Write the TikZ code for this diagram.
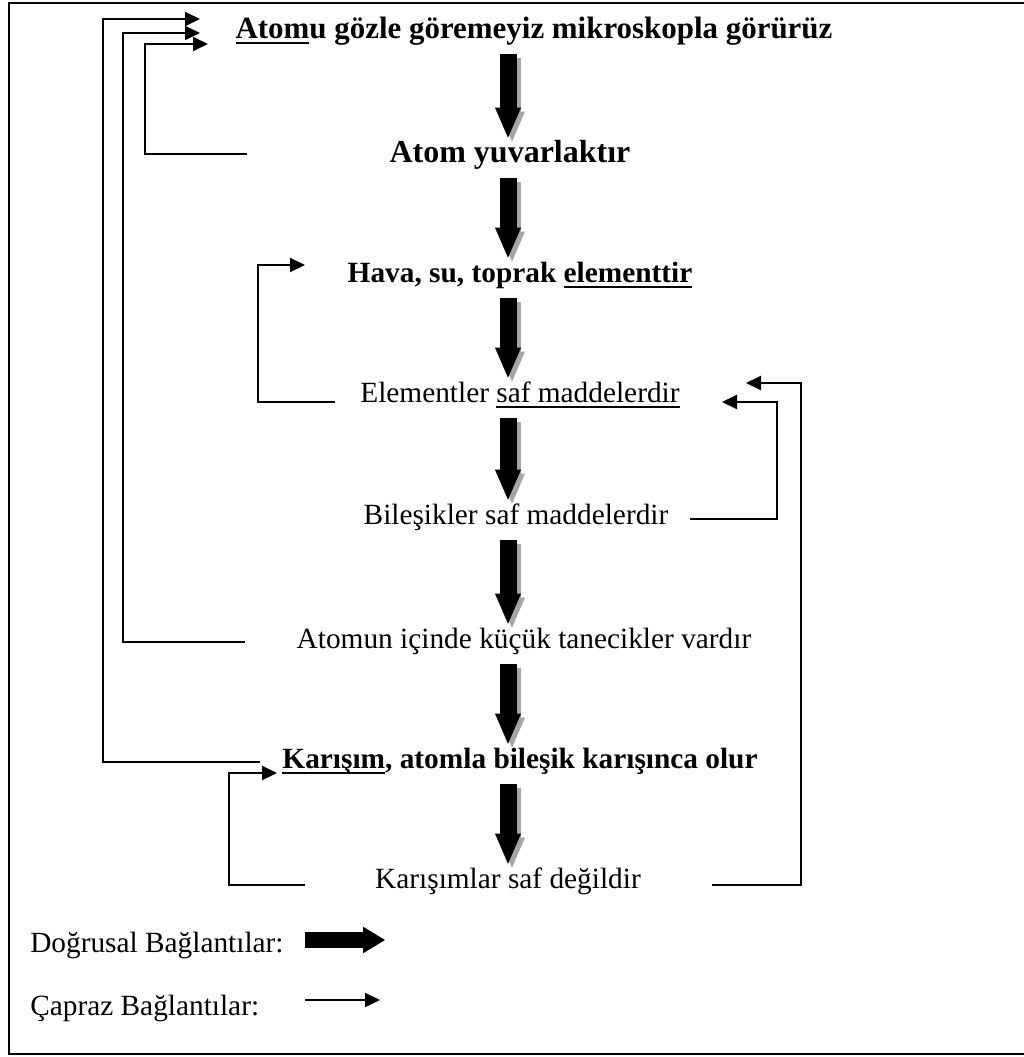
\documentclass[tikz,border=0pt]{standalone}
\usepackage{fontspec}
\setmainfont{Liberation Serif}
\usetikzlibrary{arrows.meta,calc}
% underline with a fixed offset below the baseline
\newcommand\undl[1]{\setbox0\hbox{#1}\rlap{\rule[-4.5pt]{\wd0}{1.5pt}}\box0}
\begin{document}
\begin{tikzpicture}[x=0.75pt,y=-0.75pt,
  lbl/.style={inner sep=0pt, anchor=base, font=\fontsize{22}{26}\selectfont,
    text height=15pt, text depth=4.5pt},
  lblb/.style={lbl, font=\fontsize{22}{26}\selectfont\bfseries},
  bigarrow/.style={line width=12.75pt,
    -{Triangle[length=22.5pt,width=19.5pt,line width=0pt]}},
  bigshadow/.style={bigarrow, draw=black!35,
    transform canvas={xshift=3pt,yshift=-3pt}},
  cross/.style={line width=1.5pt,
    -{Triangle[length=11.25pt,width=10.5pt]}}]
\useasboundingbox (0,0) rectangle (1024,1057);
\draw[line width=1.5pt] (9,3) rectangle (1030,1054);

% statements
\node[lblb, font=\fontsize{23.2}{27}\selectfont\bfseries] (t1) at (534,38)
  {\undl{Atom}u gözle göremeyiz mikroskopla görürüz};
\node[lblb, font=\fontsize{24}{28}\selectfont\bfseries] (t2) at (510,162) {Atom yuvarlaktır};
\node[lblb] (t3) at (520,282) {Hava, su, toprak \undl{elementtir}};
\node[lbl]  (t4) at (520,402) {Elementler \undl{saf maddelerdir}};
\node[lbl]  (t5) at (516,524) {Bileşikler saf maddelerdir};
\node[lbl]  (t6) at (524,648) {Atomun içinde küçük tanecikler vardır};
\node[lblb] (t7) at (520,768) {\undl{Karışım}, atomla bileşik karışınca olur};
\node[lbl]  (t8) at (508,888) {Karışımlar saf değildir};

% legend
\node[lbl, anchor=base west] (l1) at (30,952) {Doğrusal Bağlantılar:};
\node[lbl, anchor=base west] (l2) at (30,1015) {Çapraz Bağlantılar:};

% linear links
\coordinate (ax) at (508,0);
\foreach \a/\b in {t1/t2,t2/t3,t3/t4,t4/t5,t5/t6,t6/t7,t7/t8}{
  \draw[bigshadow] ($(\a.south -| ax)+(0,10)$) -- ($(\b.north -| ax)+(0,-4)$);
  \draw[bigarrow]  ($(\a.south -| ax)+(0,10)$) -- ($(\b.north -| ax)+(0,-4)$);
}

% cross links
\coordinate (c1s) at (247,154); \coordinate (c1e) at (208,44);
\draw[cross] (c1s) -| (145,44) -- (c1e);
\coordinate (c2s) at (245,642); \coordinate (c2e) at (200,33);
\draw[cross] (c2s) -| (123,33) -- (c2e);
\coordinate (c3s) at (260,762); \coordinate (c3e) at (200,19);
\draw[cross] (c3s) -| (103,19) -- (c3e);
\coordinate (c4s) at (335,402); \coordinate (c4e) at (305,265);
\draw[cross] (c4s) -| (258,265) -- (c4e);
\coordinate (c5s) at (305,885); \coordinate (c5e) at (277,773);
\draw[cross] (c5s) -| (229,773) -- (c5e);
\coordinate (c6s) at (690,519); \coordinate (c6e) at (722,402);
\draw[cross] (c6s) -| (777,402) -- (c6e);
\coordinate (c7s) at (712,885); \coordinate (c7e) at (746,383);
\draw[cross] (c7s) -| (801,383) -- (c7e);

% legend samples
\coordinate (k1s) at (305,940); \coordinate (k1e) at (385,940);
\draw[line width=12pt, -{Triangle[length=16.5pt,width=20pt,line width=0pt]}] (k1s) -- (k1e);
\coordinate (k2s) at (305,1000); \coordinate (k2e) at (380,1000);
\draw[cross] (k2s) -- (k2e);
\end{tikzpicture}
\end{document}
